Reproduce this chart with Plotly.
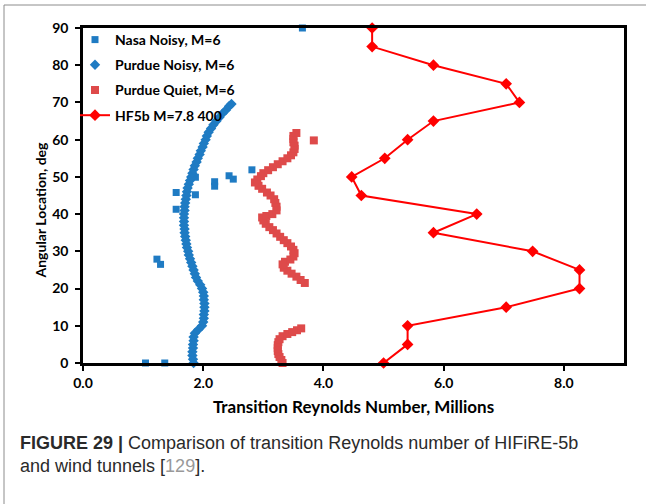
import plotly.graph_objects as go

# ---------------- data ----------------
nasa_x = [1.04, 1.36, 3.65, 1.23, 1.29, 1.55, 1.55, 1.87, 1.87, 2.19, 2.19, 2.43, 2.50, 2.81]
nasa_y = [0, 0, 90, 27.9, 26.5, 45.8, 41.3, 45.2, 49.9, 48.7, 47.5, 50.3, 49.4, 51.9]

purdue_noisy_y = [0, 1, 2, 3, 4, 5, 6, 7, 8, 9, 10, 11, 12, 13, 14, 15, 16, 17, 18, 19,
                  20, 21, 22, 23, 24, 25, 26, 27, 28, 29, 30, 31, 32, 33, 34, 35, 36, 37, 38, 39,
                  40, 41, 42, 43, 44, 45, 46, 47, 48, 49, 50, 51, 52, 53, 54, 55, 56, 57, 58, 59,
                  60, 61, 62, 63, 64, 65, 66, 67, 68, 69, 69.6]
purdue_noisy_x = [1.84, 1.83, 1.82, 1.82, 1.83, 1.83, 1.84, 1.84, 1.86, 1.92, 1.98, 2.00, 2.01, 2.01, 2.02, 2.02, 2.02, 2.01, 2.01, 2.00,
                  1.98, 1.95, 1.91, 1.88, 1.86, 1.84, 1.82, 1.80, 1.78, 1.76, 1.75, 1.73, 1.72, 1.71, 1.70, 1.69, 1.69, 1.68, 1.68, 1.68,
                  1.68, 1.69, 1.69, 1.70, 1.71, 1.72, 1.73, 1.74, 1.76, 1.78, 1.80, 1.82, 1.84, 1.86, 1.89, 1.91, 1.94, 1.96, 1.99, 2.01,
                  2.04, 2.06, 2.09, 2.13, 2.17, 2.22, 2.27, 2.32, 2.38, 2.43, 2.47]

purdue_quiet_x = [3.32, 3.30, 3.27, 3.25, 3.24, 3.24, 3.24, 3.25, 3.27, 3.32, 3.40, 3.48, 3.56, 3.63,
                  3.69, 3.62, 3.55, 3.47, 3.40, 3.34, 3.32, 3.36, 3.45, 3.50, 3.52, 3.50, 3.46, 3.40, 3.34,
                  3.28, 3.22, 3.16, 3.10, 3.04, 3.00, 2.98, 3.05, 3.15, 3.22, 3.22, 3.20, 3.18, 3.12, 3.06,
                  2.98, 2.92, 2.86, 2.90, 2.96, 3.00, 3.08, 3.16, 3.24, 3.32, 3.40, 3.46, 3.50, 3.52, 3.52,
                  3.50, 3.50, 3.50, 3.55, 3.84]
purdue_quiet_y = [0, 0.8, 1.6, 2.4, 3.2, 4.0, 4.8, 5.6, 6.4, 7.2, 7.8, 8.3, 8.8, 9.3,
                  21.5, 22.3, 23.2, 24.0, 24.8, 25.6, 26.5, 27.2, 27.8, 28.6, 29.5, 30.4, 31.3, 32.2, 33.0,
                  33.9, 34.8, 35.7, 36.5, 37.4, 38.3, 39.1, 39.5, 40.0, 41.0, 42.0, 43.0, 44.0, 45.0, 45.8,
                  46.8, 47.6, 48.5, 49.3, 50.2, 51.0, 51.8, 52.6, 53.4, 54.2, 55.0, 55.8, 56.6, 57.5, 58.4,
                  59.3, 60.2, 61.0, 61.8, 59.8]

hf5b_y = [0, 5, 10, 15, 20, 25, 30, 35, 40, 45, 50, 55, 60, 65, 70, 75, 80, 85, 90]
hf5b_x = [5.00, 5.40, 5.40, 7.04, 8.26, 8.26, 7.48, 5.83, 6.55, 4.63, 4.47, 5.02, 5.40, 5.83, 7.26, 7.04, 5.83, 4.81, 4.81]

x_ticks = [0, 2, 4, 6, 8]
x_tick_labels = ["0.0", "2.0", "4.0", "6.0", "8.0"]
y_ticks = [0, 10, 20, 30, 40, 50, 60, 70, 80, 90]

BLUE = "#1F7BC3"
RED_SQ = "#DE4A4A"
RED = "#FF0000"
FONT = "Lato"

fig = go.Figure()
fig.add_trace(go.Scatter(x=nasa_x, y=nasa_y, mode="markers", name="Nasa Noisy, M=6",
                         marker=dict(symbol="square", size=7, color=BLUE), legendgroup="a", cliponaxis=False))
fig.add_trace(go.Scatter(x=purdue_noisy_x, y=purdue_noisy_y, mode="markers", name="Purdue Noisy, M=6",
                         marker=dict(symbol="diamond", size=8, color=BLUE), legendgroup="b", cliponaxis=False))
fig.add_trace(go.Scatter(x=purdue_quiet_x, y=purdue_quiet_y, mode="markers", name="Purdue Quiet, M=6",
                         marker=dict(symbol="square", size=8, color=RED_SQ), legendgroup="c", cliponaxis=False))
fig.add_trace(go.Scatter(x=hf5b_x, y=hf5b_y, mode="lines+markers", name="HF5b M=7.8 400",
                         line=dict(color=RED, width=2),
                         marker=dict(symbol="diamond", size=9, color=RED), legendgroup="d", cliponaxis=False))

fig.update_layout(
    width=646, height=504,
    margin=dict(l=83, r=22, t=28, b=141, autoexpand=False),
    paper_bgcolor="white", plot_bgcolor="white",
    font=dict(family=FONT, color="black"),
    showlegend=True,
    legend=dict(x=75/646, y=1-24/504, xref="container", yref="container",
                xanchor="left", yanchor="top", bgcolor="rgba(0,0,0,0)",
                font=dict(family=FONT, size=14, color="black", weight="bold"),
                tracegroupgap=4, itemwidth=30),
    xaxis=dict(range=[0, 9], tickvals=x_ticks, ticktext=x_tick_labels,
               showgrid=False, zeroline=False, showline=True, linecolor="black", linewidth=2.5,
               mirror=True, ticks="outside", ticklen=5, tickwidth=2, tickcolor="black",
               tickfont=dict(family=FONT, size=14, weight="bold"),
               title=dict(text="<b>Transition Reynolds Number, Millions</b>", standoff=12,
                          font=dict(family=FONT, size=17))),
    yaxis=dict(range=[0, 90], tickvals=y_ticks,
               showgrid=False, zeroline=False, showline=True, linecolor="black", linewidth=2.5,
               mirror=True, ticks="outside", ticklen=5, tickwidth=2, tickcolor="black",
               ticklabelstandoff=4,
               tickfont=dict(family=FONT, size=14, weight="bold")),
)

# y axis title
fig.add_annotation(xref="paper", yref="paper", x=-43/541, y=0.5 - 14/335, textangle=-90,
                   xanchor="center", yanchor="middle", showarrow=False,
                   text="<b>Angular Location, deg</b>", font=dict(family=FONT, size=14, color="black"))

# outer frame lines of the figure panel
fig.add_shape(type="line", xref="paper", yref="paper", x0=-79/541, x1=563/541,
              y0=1+23/335, y1=1+23/335, line=dict(color="#8C8C8C", width=1))
fig.add_shape(type="line", xref="paper", yref="paper", x0=-79/541, x1=-79/541,
              y0=1+23/335, y1=-141/335, line=dict(color="#8C8C8C", width=1))

# caption
fig.add_annotation(xref="paper", yref="paper", x=-65/541, y=-(443-363)/335,
                   xanchor="left", yanchor="middle", showarrow=False, align="left",
                   text="<b>FIGURE 29 |</b> Comparison of transition Reynolds number of HIFiRE-5b",
                   font=dict(family="Liberation Sans", size=18, color="#2a2a2a"))
fig.add_annotation(xref="paper", yref="paper", x=-65/541, y=-(466-363)/335,
                   xanchor="left", yanchor="middle", showarrow=False, align="left",
                   text="and wind tunnels [<span style='color:#999999'>129</span>].",
                   font=dict(family="Liberation Sans", size=18, color="#2a2a2a"))

fig.write_html("out.html")
